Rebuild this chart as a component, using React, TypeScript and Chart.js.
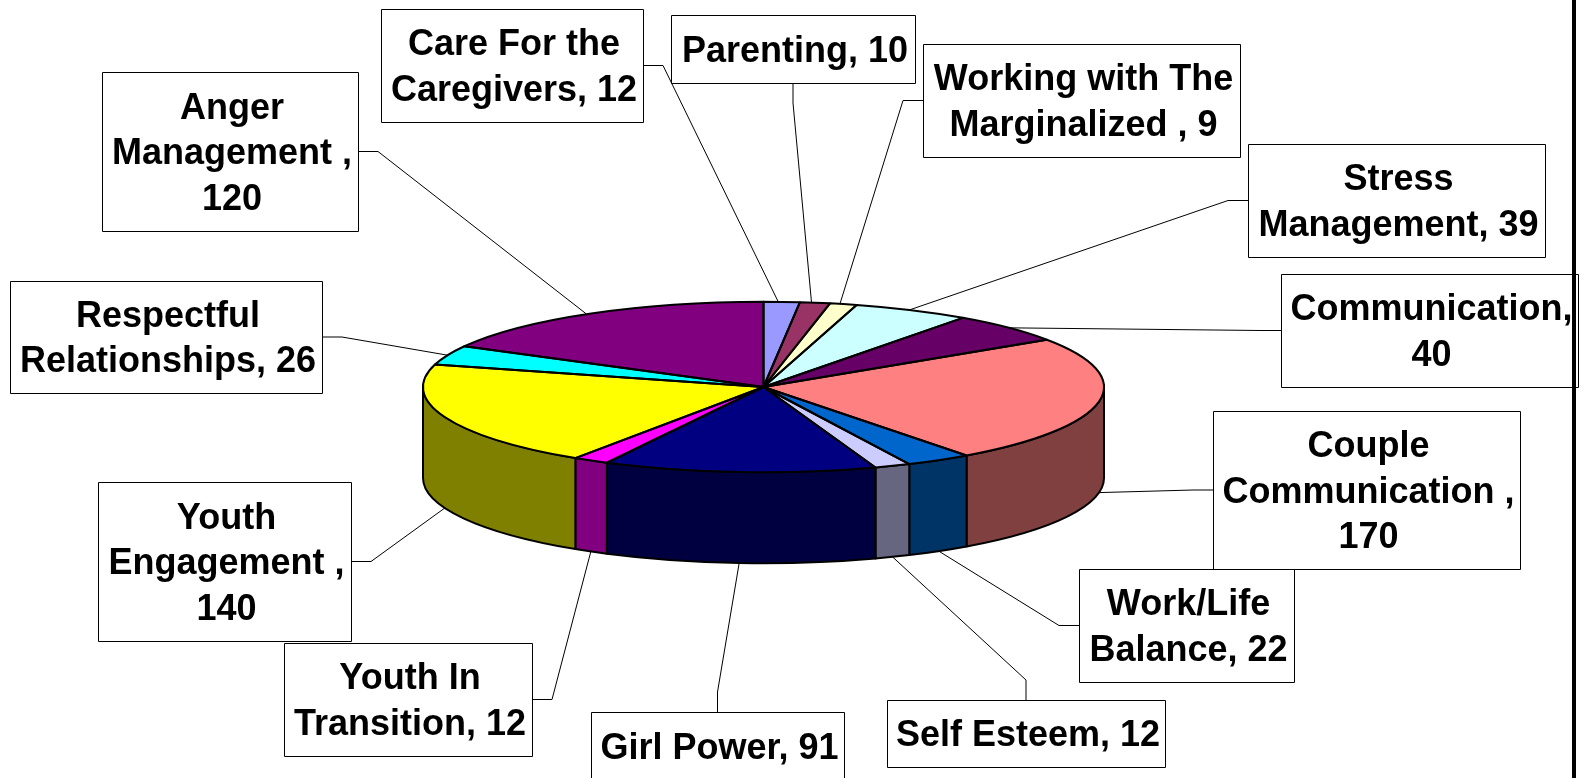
import React, { useEffect, useRef } from "react";
import { Chart, registerables } from "chart.js";

Chart.register(...registerables);

const categories = [
  "Care For the Caregivers",
  "Parenting",
  "Working with The Marginalized ",
  "Stress Management",
  "Communication",
  "Couple Communication ",
  "Work/Life Balance",
  "Self Esteem",
  "Girl Power",
  "Youth In Transition",
  "Youth Engagement ",
  "Respectful Relationships",
  "Anger Management ",
];
const values = [12, 10, 9, 39, 40, 170, 22, 12, 91, 12, 140, 26, 120];

const sliceColors = [
  "#9999FF", "#993366", "#FFFFCC", "#CCFFFF", "#660066", "#FF8080", "#0066CC",
  "#CCCCFF", "#000080", "#FF00FF", "#FFFF00", "#00FFFF", "#800080",
];
const sideColors = [
  "#4C4C80", "#4C1933", "#808066", "#668080", "#330033", "#804040", "#003366",
  "#666680", "#000040", "#800080", "#808000", "#008080", "#400040",
];

const labelLines = [
  ["Care For the", "Caregivers, 12"],
  ["Parenting, 10"],
  ["Working with The", "Marginalized , 9"],
  ["Stress", "Management, 39"],
  ["Communication,", "40"],
  ["Couple", "Communication ,", "170"],
  ["Work/Life", "Balance, 22"],
  ["Self Esteem, 12"],
  ["Girl Power, 91"],
  ["Youth In", "Transition, 12"],
  ["Youth", "Engagement ,", "140"],
  ["Respectful", "Relationships, 26"],
  ["Anger", "Management ,", "120"],
];

// Label box rectangles [left, top, right, bottom] and the side the leader leaves from.
const labelBoxes: [number, number, number, number, string][] = [
  [381, 9, 643, 122, "right"],
  [671, 15, 915, 83, "bottom"],
  [923, 44, 1240, 157, "left"],
  [1248, 144, 1545, 257, "left"],
  [1281, 274, 1578, 387, "left"],
  [1213, 411, 1520, 569, "left"],
  [1079, 569, 1294, 682, "left"],
  [887, 700, 1165, 767, "top"],
  [591, 712, 844, 780, "top"],
  [284, 643, 532, 756, "right"],
  [98, 482, 351, 641, "right"],
  [10, 281, 322, 393, "right"],
  [102, 72, 358, 231, "right"],
];

const TILT = 85.3 / 340.5;
const DEPTH = 91;
const ELBOW = 20;
const FONT = 'bold 36px "Liberation Sans", Arial, sans-serif';
const LINE_HEIGHT = 45.5;

const pie3d = {
  id: "pie3d",
  beforeDatasetsDraw(chart: any) {
    const { ctx } = chart;
    const arcs = chart.getDatasetMeta(0).data;
    ctx.save();
    ctx.lineWidth = 2;
    ctx.strokeStyle = "#000";
    ctx.lineJoin = "round";
    arcs.forEach((arc: any, i: number) => {
      const a = Math.max(arc.startAngle, 0);
      const b = Math.min(arc.endAngle, Math.PI);
      if (a >= b) return;
      const rx = arc.outerRadius;
      const ry = rx * TILT;
      ctx.beginPath();
      ctx.ellipse(arc.x, arc.y, rx, ry, 0, a, b);
      ctx.ellipse(arc.x, arc.y + DEPTH, rx, ry, 0, b, a, true);
      ctx.closePath();
      ctx.fillStyle = sideColors[i];
      ctx.fill();
      ctx.stroke();
    });
    ctx.restore();
    const first = arcs[0];
    ctx.save();
    ctx.translate(first.x, first.y);
    ctx.scale(1, TILT);
    ctx.translate(-first.x, -first.y);
  },
  afterDatasetsDraw(chart: any) {
    const { ctx } = chart;
    ctx.restore();
    const arcs = chart.getDatasetMeta(0).data;
    ctx.save();
    ctx.lineWidth = 2;
    ctx.strokeStyle = "#000";
    ctx.lineJoin = "round";
    arcs.forEach((arc: any) => {
      const rx = arc.outerRadius;
      ctx.beginPath();
      ctx.moveTo(arc.x, arc.y);
      ctx.ellipse(arc.x, arc.y, rx, rx * TILT, 0, arc.startAngle, arc.endAngle);
      ctx.closePath();
      ctx.stroke();
    });

    // Leader lines: slice's mid-angle on the rim, an elbow, then the label box.
    ctx.lineWidth = 1;
    arcs.forEach((arc: any, i: number) => {
      const [l, t, r, b, side] = labelBoxes[i];
      const mid = (arc.startAngle + arc.endAngle) / 2;
      const rx = arc.outerRadius;
      const sin = Math.sin(mid);
      const cos = Math.cos(mid);
      let ax = arc.x + rx * cos;
      const ay = arc.y + rx * TILT * sin + (sin > 0 ? DEPTH : 0);
      if (sin <= 0 && cos < 0.5 && cos > -0.8) ax -= 3.5;
      let bx = (l + r) / 2;
      let by = (t + b) / 2;
      let ex = bx;
      let ey = by;
      if (side === "left") { bx = l; ex = l - ELBOW; }
      if (side === "right") { bx = r; ex = r + ELBOW; }
      if (side === "top") { by = t; ey = t - ELBOW; }
      if (side === "bottom") { by = b; ey = b + ELBOW; }
      ctx.beginPath();
      ctx.moveTo(ax, ay);
      ctx.lineTo(ex, ey);
      ctx.lineTo(bx, by);
      ctx.stroke();
    });

    // Label boxes
    ctx.textAlign = "center";
    ctx.textBaseline = "alphabetic";
    ctx.font = FONT;
    labelBoxes.forEach(([l, t, r, b], i) => {
      ctx.fillStyle = "#fff";
      ctx.fillRect(l, t, r - l, b - t);
      ctx.strokeStyle = "#000";
      ctx.lineWidth = 1;
      ctx.strokeRect(l + 0.5, t + 0.5, r - l, b - t);
      ctx.fillStyle = "#000";
      const lines = labelLines[i];
      lines.forEach((line, k) => {
        const y = (t + b) / 2 + (k - (lines.length - 1) / 2) * LINE_HEIGHT + 12.5;
        ctx.fillText(line, (l + r) / 2 + 2, y);
      });
    });

    // Page frame at the right edge
    ctx.fillStyle = "#000";
    ctx.fillRect(1572, 0, 4, 778);
    ctx.restore();
  },
};

export default function App() {
  const ref = useRef<HTMLCanvasElement>(null);
  useEffect(() => {
    document.body.style.margin = "0";
    document.body.style.overflow = "hidden";
    const chart = new Chart(ref.current as HTMLCanvasElement, {
      type: "pie",
      data: {
        labels: categories,
        datasets: [{ data: values, backgroundColor: sliceColors, borderWidth: 0 }],
      },
      options: {
        animation: false,
        responsive: false,
        layout: { padding: { left: 423, right: 479, top: 46.5, bottom: 50.5 } },
        plugins: { legend: { display: false }, tooltip: { enabled: false } },
      },
      plugins: [pie3d],
    } as any);
    return () => chart.destroy();
  }, []);
  return (
    <canvas
      ref={ref}
      width={1583}
      height={778}
      style={{ display: "block", width: 1583, height: 778, background: "#fff" }}
    />
  );
}
